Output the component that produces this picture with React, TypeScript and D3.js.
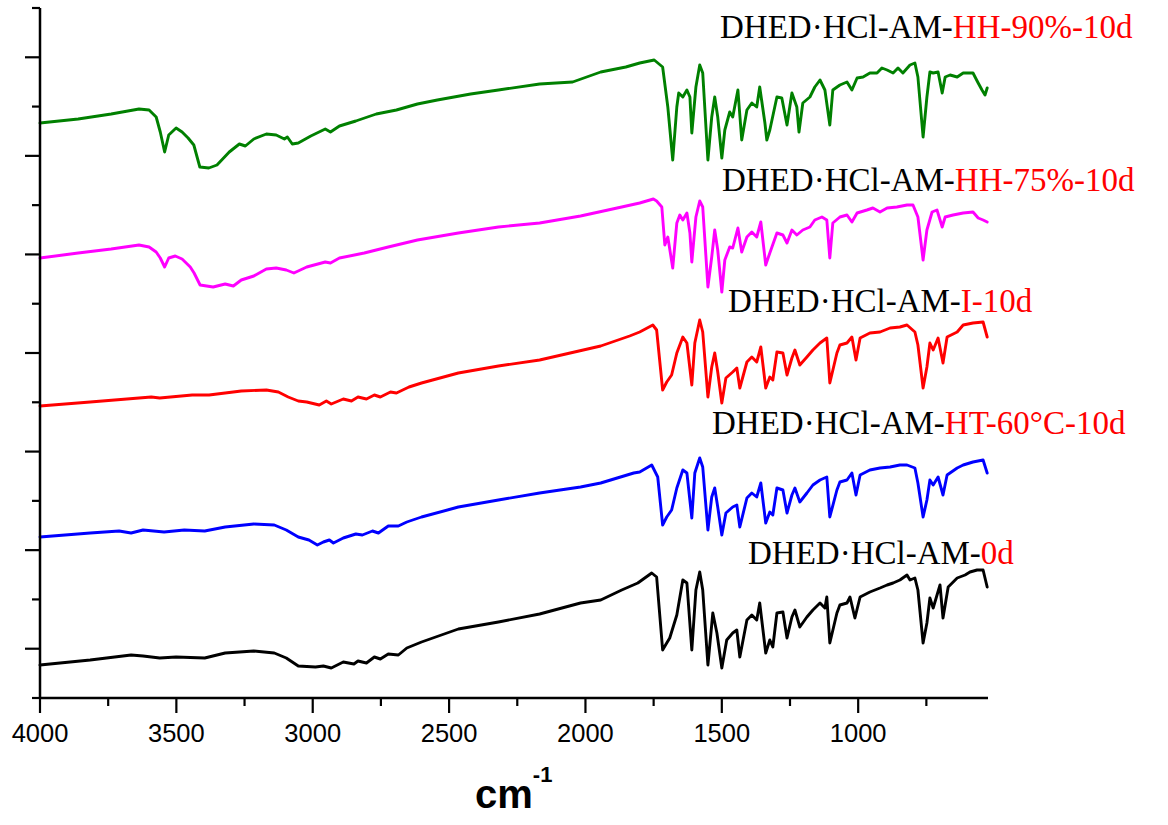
import React from "react";
import * as d3 from "d3";

type Pt = [number, number];

// wavenumber (cm-1), offset transmittance (a.u.)
const green90: Pt[] = [[4000,575],[3860,579],[3739,584],[3637,589],[3600,588],[3574,581],[3559,566],[3543,546],[3528,563],[3501,570],[3479,566],[3457,560],[3436,553],[3414,531],[3381,530],[3351,533],[3306,546],[3269,554],[3247,552],[3216,559],[3170,564],[3134,563],[3104,559],[3093,561],[3075,554],[3053,555],[3007,562],[2954,569],[2935,566],[2902,572],[2842,577],[2767,584],[2693,588],[2616,594],[2543,598],[2421,604],[2319,608],[2168,614],[2047,616],[1944,626],[1852,631],[1801,635],[1748,638],[1739,636],[1717,631],[1698,591],[1680,538],[1665,591],[1658,605],[1643,601],[1628,608],[1617,601],[1610,565],[1595,611],[1581,633],[1570,625],[1551,538],[1537,581],[1526,601],[1515,581],[1500,540],[1489,568],[1471,586],[1460,581],[1441,608],[1427,558],[1408,588],[1390,595],[1372,591],[1361,611],[1342,575],[1335,558],[1324,568],[1298,601],[1280,600],[1261,573],[1243,605],[1225,591],[1217,566],[1203,595],[1177,601],[1159,611],[1140,618],[1122,608],[1104,573],[1093,608],[1067,613],[1041,616],[1023,608],[1004,620],[982,621],[957,625],[931,625],[913,630],[894,628],[872,625],[854,630],[836,625],[810,633],[792,635],[781,621],[762,561],[748,601],[737,626],[725,625],[707,626],[692,605],[681,621],[663,623],[637,621],[615,625],[579,625],[560,615],[546,608],[535,603],[527,610]];

const magenta75: Pt[] = [[4000,440],[3860,445],[3739,449],[3637,453],[3600,451],[3574,446],[3559,440],[3543,431],[3528,440],[3504,442],[3479,439],[3449,431],[3435,425],[3413,413],[3365,411],[3321,414],[3291,412],[3262,418],[3216,422],[3170,429],[3134,430],[3097,428],[3069,425],[3022,431],[2954,436],[2935,435],[2902,440],[2811,445],[2723,451],[2616,458],[2466,465],[2319,471],[2168,475],[2018,482],[1867,491],[1801,495],[1751,499],[1739,497],[1720,491],[1709,453],[1698,461],[1680,430],[1665,475],[1654,483],[1643,478],[1628,485],[1617,465],[1610,436],[1595,481],[1581,497],[1570,491],[1551,411],[1537,441],[1526,468],[1515,448],[1500,406],[1489,438],[1471,451],[1460,450],[1441,470],[1427,446],[1408,461],[1390,466],[1372,461],[1357,476],[1339,433],[1324,445],[1298,465],[1276,463],[1261,455],[1243,468],[1225,463],[1203,468],[1177,471],[1159,478],[1133,481],[1115,478],[1104,440],[1093,475],[1067,481],[1041,483],[1023,476],[1004,485],[968,488],[946,490],[920,486],[894,490],[858,491],[821,493],[799,493],[781,481],[762,438],[748,468],[729,486],[711,488],[692,471],[681,481],[652,483],[615,485],[579,486],[560,480],[542,478],[527,476]];

const redI10: Pt[] = [[4000,292],[3816,296],[3592,301],[3561,300],[3442,303],[3380,303],[3262,307],[3170,308],[3126,306],[3090,301],[3053,297],[3022,296],[2976,293],[2950,297],[2932,294],[2888,299],[2858,297],[2834,301],[2803,299],[2774,303],[2752,301],[2715,306],[2693,305],[2647,311],[2601,315],[2466,325],[2319,332],[2168,338],[1944,352],[1838,362],[1801,366],[1753,373],[1739,368],[1728,338],[1717,308],[1702,316],[1684,323],[1665,345],[1643,361],[1628,355],[1610,313],[1599,355],[1581,378],[1570,366],[1551,301],[1537,331],[1526,345],[1515,326],[1500,295],[1485,320],[1460,326],[1445,330],[1434,310],[1408,336],[1390,341],[1372,336],[1357,351],[1339,310],[1324,321],[1313,318],[1298,346],[1276,345],[1261,323],[1243,340],[1232,348],[1214,333],[1188,341],[1166,348],[1140,355],[1115,360],[1104,315],[1078,345],[1067,353],[1041,355],[1023,361],[1008,338],[993,360],[957,365],[920,366],[883,370],[847,371],[821,373],[792,366],[781,353],[762,310],[748,331],[737,355],[725,348],[707,360],[689,335],[674,361],[637,366],[615,373],[579,375],[542,376],[527,361]];

const blueHT60: Pt[] = [[4000,161],[3816,165],[3710,167],[3666,165],[3622,168],[3545,166],[3471,168],[3396,167],[3321,171],[3216,174],[3141,173],[3097,168],[3053,161],[3014,158],[2983,153],[2961,156],[2939,158],[2924,155],[2888,160],[2842,164],[2818,163],[2781,167],[2759,165],[2723,172],[2686,172],[2655,176],[2601,181],[2466,191],[2319,198],[2168,205],[2018,211],[1944,215],[1823,225],[1801,226],[1757,233],[1735,221],[1717,173],[1702,181],[1684,188],[1665,210],[1643,228],[1628,225],[1610,180],[1599,225],[1581,240],[1570,231],[1551,168],[1537,201],[1526,210],[1515,191],[1500,163],[1485,185],[1460,191],[1445,193],[1434,171],[1408,200],[1390,205],[1372,201],[1357,215],[1339,175],[1324,186],[1313,183],[1298,210],[1276,208],[1261,185],[1243,203],[1232,210],[1214,196],[1188,205],[1166,213],[1140,218],[1115,221],[1104,181],[1078,208],[1067,216],[1041,218],[1023,225],[1008,203],[993,223],[957,228],[920,230],[883,231],[847,233],[821,233],[792,230],[781,215],[762,181],[748,198],[737,218],[725,213],[707,221],[689,203],[674,223],[637,230],[615,233],[579,236],[542,238],[527,225]];

const black0d: Pt[] = [[4000,33],[3816,38],[3666,43],[3622,42],[3561,40],[3501,41],[3396,40],[3321,45],[3216,47],[3141,45],[3097,40],[3053,32],[2990,31],[2961,32],[2932,30],[2888,36],[2849,34],[2834,37],[2803,35],[2774,41],[2752,39],[2723,44],[2686,43],[2655,50],[2601,56],[2466,69],[2319,76],[2168,84],[2018,95],[1944,98],[1867,108],[1808,115],[1757,125],[1739,121],[1717,48],[1702,55],[1691,60],[1665,83],[1643,118],[1628,115],[1610,48],[1595,108],[1581,126],[1570,108],[1551,33],[1533,85],[1518,65],[1500,30],[1482,58],[1460,65],[1445,68],[1434,41],[1408,78],[1390,83],[1372,78],[1361,95],[1339,45],[1324,58],[1313,51],[1298,85],[1276,86],[1261,60],[1243,81],[1232,88],[1214,71],[1188,81],[1166,88],[1140,95],[1122,90],[1115,101],[1104,55],[1078,85],[1067,93],[1041,95],[1030,101],[1012,80],[993,101],[957,106],[920,110],[894,113],[872,115],[847,118],[821,123],[810,118],[792,120],[781,108],[762,55],[748,75],[737,100],[725,90],[700,113],[689,80],[670,111],[637,120],[608,123],[590,126],[564,128],[542,128],[527,111]];

const seriesColors = ["#008000", "#ff00ff", "#ff0000", "#0000ff", "#000000"];
const seriesData = [green90, magenta75, redI10, blueHT60, black0d];

const labelPrefix = "DHED\u00B7HCl-AM-";
const labelSuffixes = ["HH-90%-10d", "HH-75%-10d", "I-10d", "HT-60\u00B0C-10d", "0d"];
const labelX = [720, 722, 728, 712, 748];
const labelY = [38, 191, 312, 434, 564];

const xMajorTicks = [4000, 3500, 3000, 2500, 2000, 1500, 1000];
const xMinorTicks = [3750, 3250, 2750, 2250, 1750, 1250, 750];
const yTickCount = 14;

export default function App() {
  const left = 40, right = 988, top = 8, bottom = 698;
  const x = d3.scaleLinear().domain([4000, 524]).range([left, right]);
  const y = d3.scaleLinear().domain([0, 690]).range([bottom, top]);
  const line = d3.line<Pt>().x(d => x(d[0])).y(d => y(d[1]));
  const yTicks = d3.range(0, yTickCount + 1).map(k => (k * 690) / yTickCount);

  return (
    <div style={{ position: "absolute", left: 0, top: 0 }}>
      <svg width={1168} height={825} style={{ display: "block", background: "#fff" }}>
        {seriesData.map((s, i) => (
          <path key={i} d={line([...s].sort((a, b) => b[0] - a[0])) || ""} fill="none"
            stroke={seriesColors[i]} strokeWidth={2.9} strokeLinejoin="round" strokeLinecap="round" />
        ))}
        {/* axes */}
        <line x1={left} x2={left} y1={top} y2={bottom} stroke="#000" strokeWidth={2.5} />
        <line x1={left} x2={right} y1={bottom} y2={bottom} stroke="#000" strokeWidth={2.5} />
        {yTicks.map((t, k) => (
          <line key={"yt" + k} x1={left - (k % 2 === 1 ? 15 : 8)} x2={left} y1={y(t)} y2={y(t)} stroke="#000" strokeWidth={2.2} />
        ))}
        {xMajorTicks.map(t => (
          <g key={"xm" + t}>
            <line x1={x(t)} x2={x(t)} y1={bottom} y2={bottom + 15} stroke="#000" strokeWidth={2.2} />
            <text x={x(t)} y={742} textAnchor="middle" fontFamily="Liberation Sans, Arial, sans-serif" fontSize={25.5} fill="#000">{t}</text>
          </g>
        ))}
        {xMinorTicks.map(t => (
          <line key={"xn" + t} x1={x(t)} x2={x(t)} y1={bottom} y2={bottom + 8} stroke="#000" strokeWidth={2.2} />
        ))}
        <text x={475} y={808} fontFamily="Liberation Sans, Arial, sans-serif" fontWeight="bold" fontSize={40} fill="#000">
          cm<tspan fontSize={22} dy={-26}>-1</tspan>
        </text>
        {labelSuffixes.map((s, i) => (
          <text key={"lb" + i} x={labelX[i]} y={labelY[i]} fontFamily="Liberation Serif, Times New Roman, serif" fontSize={33} fill="#000">
            {labelPrefix}<tspan fill="#ff0000">{s}</tspan>
          </text>
        ))}
      </svg>
    </div>
  );
}
